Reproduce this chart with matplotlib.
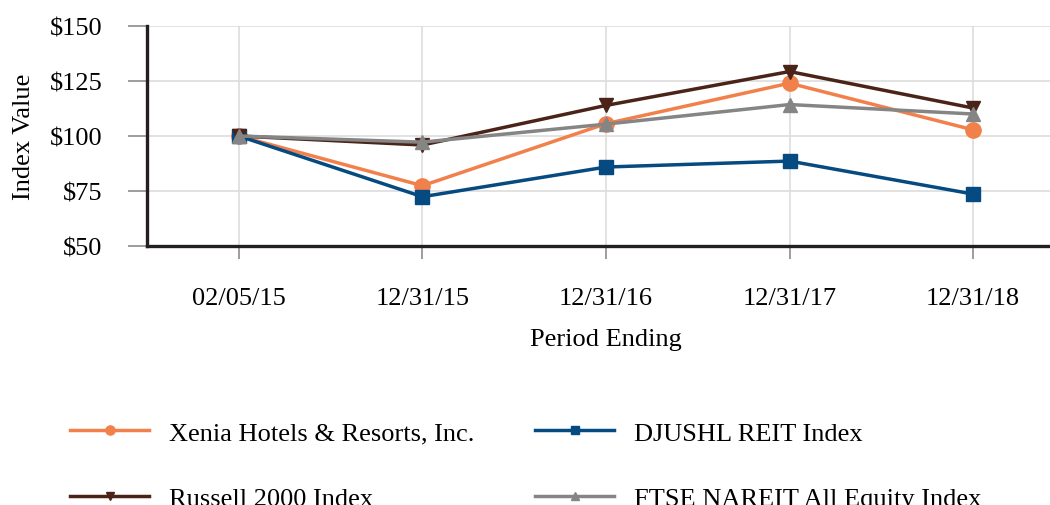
import matplotlib
matplotlib.use("Agg")
import matplotlib.pyplot as plt
from matplotlib.ticker import FuncFormatter

plt.rcParams["font.family"] = ["Liberation Serif", "DejaVu Serif"]

periods = ["02/05/15", "12/31/15", "12/31/16", "12/31/17", "12/31/18"]
xenia = [100.0, 77.4, 105.6, 124.0, 102.8]
djushl = [100.0, 72.4, 85.9, 88.6, 73.6]
russell = [100.0, 95.9, 113.9, 129.3, 112.7]
ftse = [100.0, 97.2, 105.4, 114.3, 110.0]

series = [
    ("Xenia Hotels & Resorts, Inc.", xenia, "#F2804B", "o", 11),
    ("DJUSHL REIT Index", djushl, "#054A80", "s", 9.5),
    ("Russell 2000 Index", russell, "#4A2418", "v", 10),
    ("FTSE NAREIT All Equity Index", ftse, "#858585", "^", 10),
]

FS = 19

fig = plt.figure(figsize=(10.5, 5.06), dpi=100)
ax = fig.add_axes([147 / 1050, 1 - 247 / 506, 918 / 1050, 220 / 506])

x = list(range(len(periods)))
handles = {}
for name, vals, color, marker, ms in series:
    h, = ax.plot(x, vals, color=color, marker=marker, markersize=ms, linewidth=2.5,
                 label=name, clip_on=False)
    handles[name] = h

ax.set_xlim(-0.5, 4.5)
ax.set_ylim(50, 150)
ax.set_yticks([50, 75, 100, 125, 150])
ax.yaxis.set_major_formatter(FuncFormatter(lambda v, p: f"${v:.0f}"))
ax.set_xticks(x)
ax.set_xticklabels(periods)

ax.grid(True, color="#DDDDDD", linewidth=1.2)
ax.set_axisbelow(True)
for s in ("top", "right"):
    ax.spines[s].set_visible(False)
for s in ("left", "bottom"):
    ax.spines[s].set_color("#231F20")
    ax.spines[s].set_linewidth(2.4)

ax.tick_params(axis="y", length=14, width=1.2, color="#8C8C8C", pad=18, labelsize=FS)
ax.tick_params(axis="x", length=9.5, width=1.2, color="#8C8C8C", pad=20, labelsize=FS)

ax.set_xlabel("Period Ending", fontsize=FS, labelpad=14)
ax.set_ylabel("Index Value", fontsize=FS, labelpad=11)

# legend fills row by row: Xenia, DJUSHL / Russell, FTSE
order = ["Xenia Hotels & Resorts, Inc.", "Russell 2000 Index",
         "DJUSHL REIT Index", "FTSE NAREIT All Equity Index"]
fig.legend([handles[n] for n in order], order, loc="upper left",
           bbox_to_anchor=(57 / 1050, 1 - 409 / 506), ncol=2,
           frameon=False, fontsize=FS, handlelength=3.0, handletextpad=0.75,
           columnspacing=2.3, labelspacing=1.6, borderpad=0, markerscale=0.6)

fig.savefig("out.png", dpi=100)
